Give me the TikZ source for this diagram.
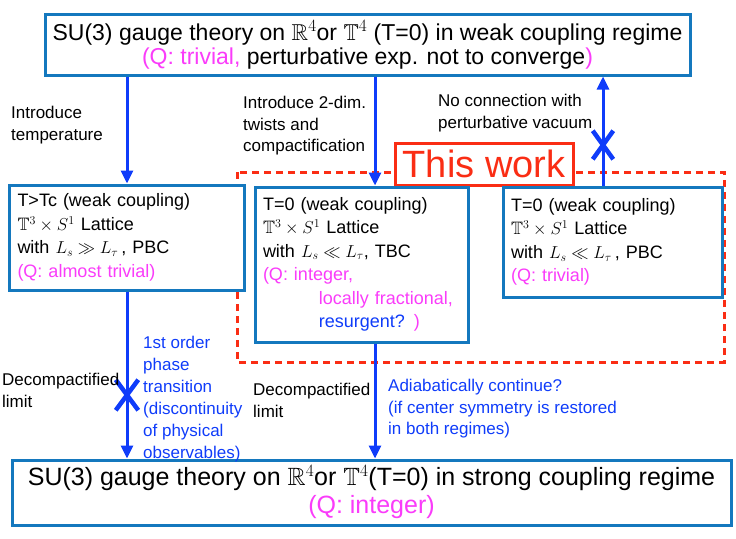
\documentclass[tikz,border=0pt]{standalone}
\usepackage{fontspec}
\setmainfont{Liberation Sans}
\usepackage{amssymb}
\usetikzlibrary{arrows.meta,shapes.misc}

\definecolor{boxblue}{RGB}{20,120,190}
\definecolor{arrblue}{RGB}{15,60,250}
\definecolor{qpink}{RGB}{250,60,250}
\definecolor{workred}{RGB}{250,45,20}

\newcommand\titlesize{\fontsize{23}{24}\selectfont}
\newcommand\bottomsize{\fontsize{25}{28}\selectfont}
\newcommand\boxsize{\fontsize{18}{23.5}\selectfont}
\newcommand\labelsize{\fontsize{17}{21.5}\selectfont}

\tikzset{
  box/.style={draw=boxblue, line width=3pt, fill=white, inner sep=0pt},
  statebox/.style={box, align=left, inner xsep=8pt, text width=#1},
  lbl/.style={font=\labelsize, align=left, inner sep=0pt, anchor=north west},
  conn/.style={arrblue, line width=3pt, -{Triangle[length=13pt,width=12pt]}},
  nogo/.style={draw=arrblue, cross out, line width=4.5pt, inner sep=0pt,
    minimum width=16pt, minimum height=24pt}
}

\begin{document}
\begin{tikzpicture}[x=1pt,y=-1pt]
  \useasboundingbox (0,0) rectangle (736,538);
  % region of this work
  \draw[workred, line width=3pt, dash pattern=on 7pt off 5pt] (237,172) rectangle (724,362);
  \node[box, draw=workred, text=workred, font=\fontsize{38}{40}\selectfont,
    minimum width=178pt, minimum height=42pt] (work) at (484,164) {This work};

  % theories
  \node[box, minimum width=645pt, minimum height=61pt, align=center, font=\titlesize] (weak) at (367.5,44.5)
    {SU(3) gauge theory on $\mathbb{R}^4$or $\mathbb{T}^4$ (T=0) in weak coupling regime\\
     \textcolor{qpink}{(Q: trivial,} perturbative exp. not to converge\textcolor{qpink}{)}};
  \node[box, minimum width=719pt, minimum height=65pt, align=center, font=\bottomsize] (strong) at (371.5,492.5)
    {SU(3) gauge theory on $\mathbb{R}^4$or $\mathbb{T}^4$(T=0) in strong coupling regime\\
     \textcolor{qpink}{(Q: integer)}};

  \node[statebox=219pt, minimum height=105pt, font=\boxsize] (hot) at (127,237.5)
    {T>Tc (weak coupling)\\
     $\mathbb{T}^3\times S^1$ Lattice\\
     with $L_s\gg L_\tau$\,, PBC\\
     \textcolor{qpink}{(Q: almost trivial)}};
  \node[statebox=197pt, minimum height=155pt, font=\boxsize] (twist) at (361.5,264.5)
    {T=0 (weak coupling)\\
     $\mathbb{T}^3\times S^1$ Lattice\\
     with $L_s\ll L_\tau$, TBC\\
     \textcolor{qpink}{(Q: integer,}\\
     \hspace*{3.1em}\textcolor{qpink}{locally fractional,}\\
     \hspace*{3.1em}\textcolor{arrblue}{resurgent?} \textcolor{qpink}{)}};
  \node[statebox=203pt, minimum height=110pt, font=\boxsize] (pbc) at (612.5,242)
    {T=0 (weak coupling)\\
     $\mathbb{T}^3\times S^1$ Lattice\\
     with $L_s\ll L_\tau$\,, PBC\\
     \textcolor{qpink}{(Q: trivial)}};

  % columns of the arrows
  \coordinate (colB) at (375,0);
  \coordinate (colC) at (603,0);

  % connectors
  \draw[conn] (weak.south -| hot.north) -- (hot.north);
  \draw[conn] (weak.south -| colB) -- (twist.north -| colB);
  \draw[conn] (pbc.north -| colC) -- (weak.south -| colC);
  \draw[conn] (hot.south) -- (strong.north -| hot.south);
  \draw[conn] (twist.south -| colB) -- (strong.north -| colB);
  \node[nogo] (cutC) at (603,145) {};
  \node[nogo, minimum width=18pt, minimum height=26pt] (cutA) at (127,395) {};

  % labels
  \node[lbl] (heat) at (11,106) {Introduce\\temperature};
  \node[lbl] (twisting) at (243,96) {Introduce 2-dim.\\twists and\\compactification};
  \node[lbl] (nolink) at (438,94) {No connection with\\perturbative vacuum};
  \node[lbl] (decA) at (2,373) {Decompactified\\limit};
  \node[lbl, text=arrblue, font=\fontsize{17}{22}\selectfont] (firstorder) at (143,336)
    {1st order\\phase\\transition\\(discontinuity\\of physical\\observables)};
  \node[lbl] (decB) at (253,383) {Decompactified\\limit};
  \node[lbl, text=arrblue] (adiab) at (388,379)
    {Adiabatically continue?\\(if center symmetry is restored\\in both regimes)};
\end{tikzpicture}
\end{document}
